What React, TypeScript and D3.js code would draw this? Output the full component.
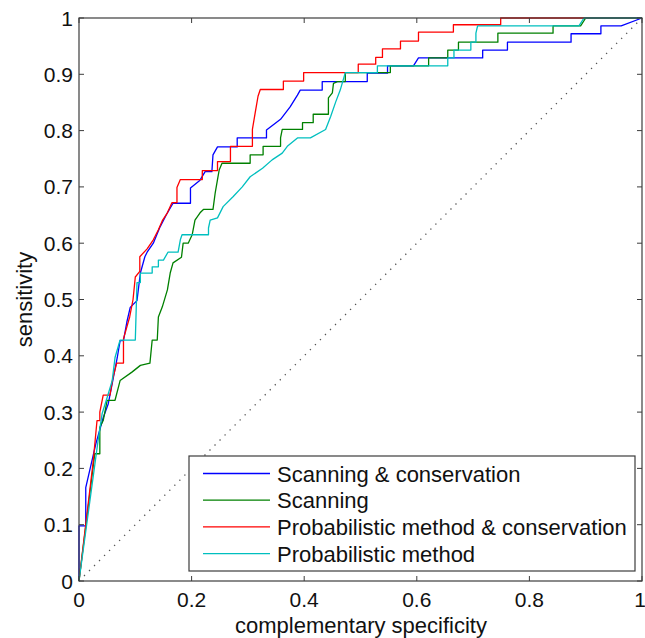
import React from "react";
import * as d3 from "d3";

// ROC curves: [complementary specificity, sensitivity]
const scanConservation: [number, number][] = [
  [0, 0], [0, 0.098], [0.012, 0.098], [0.012, 0.166], [0.03, 0.244], [0.043, 0.29],
  [0.052, 0.315], [0.06, 0.356], [0.068, 0.397], [0.073, 0.427], [0.079, 0.427],
  [0.085, 0.46], [0.091, 0.486], [0.103, 0.498], [0.109, 0.547], [0.117, 0.576],
  [0.121, 0.584], [0.132, 0.6], [0.144, 0.629], [0.157, 0.654], [0.167, 0.671],
  [0.198, 0.671], [0.198, 0.698], [0.215, 0.712], [0.224, 0.727], [0.236, 0.727],
  [0.238, 0.757], [0.246, 0.771], [0.281, 0.771], [0.281, 0.787], [0.333, 0.787],
  [0.333, 0.801], [0.358, 0.82], [0.375, 0.842], [0.388, 0.863], [0.393, 0.872],
  [0.432, 0.872], [0.432, 0.887], [0.512, 0.887], [0.512, 0.902], [0.548, 0.902],
  [0.548, 0.915], [0.594, 0.915], [0.603, 0.929], [0.717, 0.929], [0.717, 0.943],
  [0.761, 0.943], [0.761, 0.957], [0.874, 0.957], [0.874, 0.972], [0.927, 0.972],
  [0.927, 0.986], [0.963, 0.986], [1, 1],
];

const scanning: [number, number][] = [
  [0, 0], [0.028, 0.226], [0.037, 0.226], [0.037, 0.273], [0.043, 0.285], [0.05, 0.321],
  [0.064, 0.321], [0.073, 0.356], [0.094, 0.371], [0.109, 0.383], [0.126, 0.387],
  [0.13, 0.428], [0.139, 0.428], [0.141, 0.469], [0.148, 0.487], [0.157, 0.517],
  [0.162, 0.547], [0.167, 0.565], [0.182, 0.575], [0.185, 0.6], [0.194, 0.6],
  [0.201, 0.615], [0.206, 0.641], [0.215, 0.654], [0.221, 0.66], [0.238, 0.66],
  [0.242, 0.69], [0.246, 0.713], [0.249, 0.73], [0.254, 0.742], [0.304, 0.742],
  [0.304, 0.757], [0.327, 0.757], [0.327, 0.772], [0.358, 0.772], [0.358, 0.787],
  [0.361, 0.802], [0.397, 0.802], [0.397, 0.814], [0.416, 0.814], [0.416, 0.829],
  [0.443, 0.829], [0.443, 0.858], [0.45, 0.867], [0.452, 0.884], [0.459, 0.887],
  [0.473, 0.887], [0.473, 0.903], [0.553, 0.903], [0.553, 0.915], [0.621, 0.915],
  [0.621, 0.929], [0.655, 0.929], [0.655, 0.943], [0.674, 0.943], [0.674, 0.957],
  [0.744, 0.957], [0.744, 0.973], [0.842, 0.973], [0.842, 0.986], [0.891, 0.986],
  [0.9, 1], [1, 1],
];

const probConservation: [number, number][] = [
  [0, 0], [0.025, 0.21], [0.032, 0.285], [0.037, 0.285], [0.037, 0.3], [0.043, 0.33],
  [0.055, 0.33], [0.06, 0.36], [0.067, 0.387], [0.079, 0.387], [0.079, 0.43],
  [0.09, 0.469], [0.096, 0.5], [0.1, 0.54], [0.108, 0.55], [0.108, 0.576],
  [0.121, 0.59], [0.132, 0.606], [0.141, 0.624], [0.148, 0.64], [0.157, 0.654],
  [0.165, 0.672], [0.174, 0.672], [0.174, 0.699], [0.18, 0.713], [0.219, 0.713],
  [0.219, 0.729], [0.246, 0.729], [0.246, 0.745], [0.269, 0.745], [0.269, 0.772],
  [0.308, 0.772], [0.308, 0.802], [0.313, 0.832], [0.318, 0.861], [0.322, 0.873],
  [0.363, 0.873], [0.363, 0.888], [0.399, 0.888], [0.399, 0.903], [0.496, 0.903],
  [0.496, 0.918], [0.527, 0.918], [0.527, 0.93], [0.539, 0.93], [0.539, 0.945],
  [0.571, 0.945], [0.571, 0.959], [0.603, 0.959], [0.603, 0.975], [0.665, 0.975],
  [0.665, 0.988], [0.749, 0.988], [0.749, 1], [1, 1],
];

const probabilistic: [number, number][] = [
  [0, 0], [0.034, 0.25], [0.041, 0.297], [0.05, 0.326], [0.059, 0.356], [0.064, 0.397],
  [0.073, 0.428], [0.1, 0.428], [0.103, 0.53], [0.109, 0.53], [0.109, 0.547],
  [0.13, 0.547], [0.13, 0.558], [0.141, 0.558], [0.141, 0.57], [0.15, 0.57],
  [0.158, 0.584], [0.176, 0.584], [0.18, 0.606], [0.183, 0.615], [0.23, 0.615],
  [0.23, 0.627], [0.233, 0.641], [0.246, 0.645], [0.256, 0.665], [0.274, 0.683],
  [0.29, 0.7], [0.304, 0.718], [0.326, 0.733], [0.343, 0.748], [0.361, 0.76],
  [0.37, 0.772], [0.388, 0.787], [0.411, 0.787], [0.438, 0.802], [0.447, 0.825],
  [0.456, 0.851], [0.464, 0.872], [0.473, 0.903], [0.53, 0.903], [0.53, 0.915],
  [0.655, 0.915], [0.655, 0.929], [0.666, 0.929], [0.666, 0.943], [0.696, 0.943],
  [0.696, 0.957], [0.705, 0.957], [0.705, 0.973], [0.708, 0.986], [0.888, 0.986],
  [0.897, 1], [1, 1],
];

const seriesNames = [
  "Scanning & conservation",
  "Scanning",
  "Probabilistic method & conservation",
  "Probabilistic method",
];
const seriesData = [scanConservation, scanning, probConservation, probabilistic];
const seriesColors = ["#0000ff", "#008000", "#ff0000", "#00bfbf"];

const xTicks = [0, 0.2, 0.4, 0.6, 0.8, 1];
const yTicks = [0, 0.1, 0.2, 0.3, 0.4, 0.5, 0.6, 0.7, 0.8, 0.9, 1];

const W = 645;
const H = 638;
const left = 79;
const right = 642;
const top = 18;
const bottom = 581;
const font = "'Liberation Sans', Arial, Helvetica, sans-serif";
const axisColor = "#3c3c3c";

export default function App() {
  const x = d3.scaleLinear().domain([0, 1]).range([left, right]);
  const y = d3.scaleLinear().domain([0, 1]).range([bottom, top]);

  const line = d3
    .line<[number, number]>()
    .x((d) => x(d[0]))
    .y((d) => y(d[1]));

  const fmt = (v: number) => (v === 0 || v === 1 ? String(v) : v.toFixed(1));
  const tick = 5;

  // legend box
  const lg = { x0: 189, x1: 635, y0: 456, y1: 571 };
  const rowY = (i: number) => 473.5 + i * 26.7;

  return (
    <svg
      width={W}
      height={H}
      style={{ position: "absolute", left: 0, top: 0, background: "#fff" }}
      fontFamily={font}
    >
      <rect x={0} y={0} width={W} height={H} fill="#fff" />

      {/* chance diagonal */}
      <line
        x1={x(0)}
        y1={y(0)}
        x2={x(1)}
        y2={y(1)}
        stroke="#555"
        strokeWidth={1.3}
        strokeDasharray="1.3,5.8"
      />

      {seriesData.map((d, i) => (
        <path
          key={seriesNames[i]}
          d={line(d) || ""}
          fill="none"
          stroke={seriesColors[i]}
          strokeWidth={1.3}
          strokeLinejoin="round"
        />
      ))}

      {/* axes box */}
      <rect
        x={left}
        y={top}
        width={right - left}
        height={bottom - top}
        fill="none"
        stroke={axisColor}
        strokeWidth={1.2}
      />
      {xTicks.map((t) => (
        <g key={"x" + t}>
          <line x1={x(t)} x2={x(t)} y1={bottom} y2={bottom - tick} stroke={axisColor} />
          <line x1={x(t)} x2={x(t)} y1={top} y2={top + tick} stroke={axisColor} />
          <text x={t === 1 ? x(t) - 2 : x(t)} y={607} fontSize={21} textAnchor="middle" fill="#111">
            {fmt(t)}
          </text>
        </g>
      ))}
      {yTicks.map((t) => (
        <g key={"y" + t}>
          <line x1={left} x2={left + tick} y1={y(t)} y2={y(t)} stroke={axisColor} />
          <line x1={right} x2={right - tick} y1={y(t)} y2={y(t)} stroke={axisColor} />
          <text x={73} y={y(t) + 7.5} fontSize={21} textAnchor="end" fill="#111">
            {fmt(t)}
          </text>
        </g>
      ))}

      <text x={361} y={633} fontSize={22} textAnchor="middle" fill="#111">
        complementary specificity
      </text>
      <text
        transform={`translate(32, ${(top + bottom) / 2}) rotate(-90)`}
        fontSize={22}
        textAnchor="middle"
        fill="#111"
      >
        sensitivity
      </text>

      {/* legend */}
      <rect
        x={lg.x0}
        y={lg.y0}
        width={lg.x1 - lg.x0}
        height={lg.y1 - lg.y0}
        fill="#fff"
        stroke={axisColor}
        strokeWidth={1.2}
      />
      {seriesNames.map((name, i) => (
        <g key={"lg" + name}>
          <line
            x1={203}
            x2={270}
            y1={rowY(i)}
            y2={rowY(i)}
            stroke={seriesColors[i]}
            strokeWidth={1.3}
          />
          <text x={277} y={rowY(i) + 8} fontSize={22} fill="#111">
            {name}
          </text>
        </g>
      ))}
    </svg>
  );
}
